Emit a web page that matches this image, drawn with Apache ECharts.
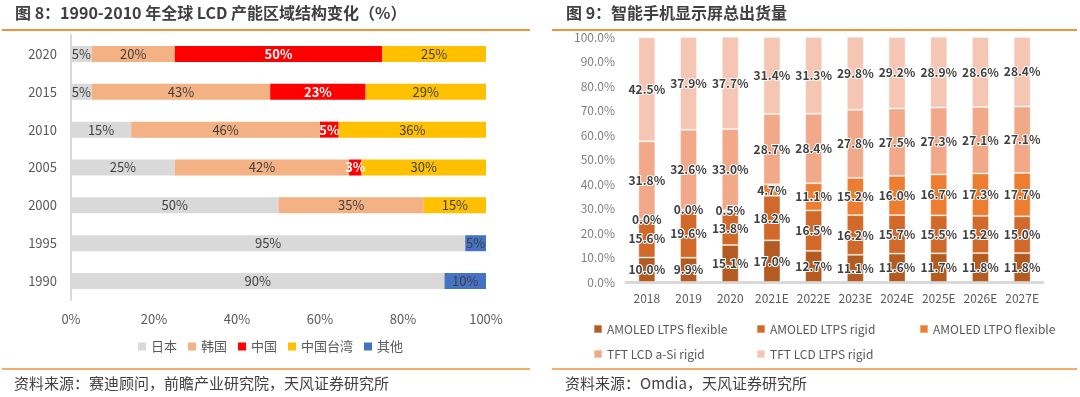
<!DOCTYPE html>
<html>
<head>
<meta charset="utf-8">
<script src="https://cdn.jsdelivr.net/npm/echarts@6/dist/echarts.min.js"></script>
<style>
html, body { margin: 0; padding: 0; background: #fff; }
#main { width: 1080px; height: 397px; }
</style>
</head>
<body>
<div id="main"></div>
<script>
// 图8：LCD 产能区域结构 (%)
const lcdYears = ['1990', '1995', '2000', '2005', '2010', '2015', '2020']
const japan = [90, 95, 50, 25, 14.5, 5, 5]
const korea = [0, 0, 35, 42, 45.5, 43, 20]
const china = [0, 0, 0, 3, 4.5, 23, 50]
const taiwan = [0, 0, 15, 30, 35.5, 29, 25]
const others = [10, 5, 0, 0, 0, 0, 0]
const lcdTicks = [0, 20, 40, 60, 80, 100]

// 图9：智能手机显示屏出货结构 (%)
const phoneYears = ['2018', '2019', '2020', '2021E', '2022E', '2023E', '2024E', '2025E', '2026E', '2027E']
const ltpsFlex = [10.0, 9.9, 15.1, 17.0, 12.7, 11.1, 11.6, 11.7, 11.8, 11.8]
const ltpsRigid = [15.6, 19.6, 13.8, 18.2, 16.5, 16.2, 15.7, 15.5, 15.2, 15.0]
const ltpoFlex = [0.0, 0.0, 0.5, 4.7, 11.1, 15.2, 16.0, 16.7, 17.3, 17.7]
const asiRigid = [31.8, 32.6, 33.0, 28.7, 28.4, 27.8, 27.5, 27.3, 27.1, 27.1]
const lcdLtpsRigid = [42.5, 37.9, 37.7, 31.4, 31.3, 29.8, 29.2, 28.9, 28.6, 28.4]

const FONT = '"Noto Sans CJK SC", "Noto Sans", sans-serif'

const leftNames = ['日本', '韩国', '中国', '中国台湾', '其他']
const leftData = [japan, korea, china, taiwan, others]
const leftColors = ['#d9d9d9', '#f4b183', '#ff0000', '#ffc000', '#4472c4']

const rightNames = ['AMOLED LTPS flexible', 'AMOLED LTPS rigid', 'AMOLED LTPO flexible', 'TFT LCD a-Si rigid', 'TFT LCD LTPS rigid']
const rightData = [ltpsFlex, ltpsRigid, ltpoFlex, asiRigid, lcdLtpsRigid]
const rightColors = ['#b35b21', '#d0692a', '#ed7d31', '#f1a98a', '#f6c6b4']

const series = []
leftNames.forEach((name, i) => {
  const isChina = name === '中国'
  series.push({
    name: name,
    type: 'bar',
    stack: 'lcd',
    xAxisIndex: 0,
    yAxisIndex: 0,
    barWidth: 16,
    data: leftData[i],
    itemStyle: { color: leftColors[i] },
    label: {
      show: true,
      position: 'inside',
      formatter: p => p.value ? Math.round(p.value) + '%' : '',
      color: isChina ? '#fff' : '#404040',
      fontWeight: isChina ? 'bold' : 'normal',
      fontSize: 13,
      fontFamily: FONT
    }
  })
})
rightNames.forEach((name, i) => {
  series.push({
    name: name,
    type: 'bar',
    stack: 'phone',
    xAxisIndex: 1,
    yAxisIndex: 1,
    barWidth: 17,
    data: rightData[i],
    itemStyle: { color: rightColors[i], borderColor: 'rgba(255,255,255,0.35)', borderWidth: 1 },
    label: {
      show: true,
      position: 'inside',
      formatter: p => p.value.toFixed(1) + '%',
      color: '#404040',
      fontWeight: 'bold',
      fontSize: 12,
      fontFamily: FONT,
      textBorderColor: '#fff',
      textBorderWidth: 2
    }
  })
})

const chart = echarts.init(document.getElementById('main'), null, { renderer: 'canvas' })
chart.setOption({
  animation: false,
  textStyle: { fontFamily: FONT },
  grid: [
    { left: 71, top: 35, width: 415, height: 265 },
    { left: 626, top: 37, width: 417, height: 245 }
  ],
  xAxis: [
    {
      gridIndex: 0,
      type: 'value',
      min: lcdTicks[0],
      max: lcdTicks[lcdTicks.length - 1],
      interval: 20,
      axisLine: { show: false },
      axisTick: { show: false },
      splitLine: { show: false },
      axisLabel: { color: '#595959', fontSize: 13, margin: 13, formatter: '{value}%' }
    },
    {
      gridIndex: 1,
      type: 'category',
      data: phoneYears,
      axisLine: { lineStyle: { color: '#d9d9d9', width: 3 } },
      axisTick: { show: false },
      axisLabel: { color: '#595959', fontSize: 12, margin: 10, interval: 0 }
    }
  ],
  yAxis: [
    {
      gridIndex: 0,
      type: 'category',
      data: lcdYears,
      axisLine: { lineStyle: { color: '#d9d9d9', width: 2 } },
      axisTick: { show: false },
      axisLabel: { color: '#595959', fontSize: 13, margin: 14 }
    },
    {
      gridIndex: 1,
      type: 'value',
      min: 0,
      max: 100,
      interval: 10,
      axisLine: { show: false },
      axisTick: { show: false },
      splitLine: { show: false },
      axisLabel: { color: '#7f7f7f', fontSize: 12, margin: 11, formatter: v => v.toFixed(1) + '%' }
    }
  ],
  legend: [
    {
      data: leftNames,
      left: 138,
      top: 340,
      padding: 0,
      icon: 'rect',
      itemWidth: 8,
      itemHeight: 8,
      itemGap: 11,
      textStyle: { color: '#595959', fontSize: 13, fontFamily: FONT }
    },
    {
      data: rightNames,
      left: 593,
      top: 319,
      width: 490,
      padding: 0,
      icon: 'rect',
      itemWidth: 8,
      itemHeight: 8,
      itemGap: 5,
      textStyle: { color: '#595959', fontSize: 12, width: 144, lineHeight: 20, fontFamily: FONT }
    }
  ],
  graphic: [
    { type: 'text', left: 15, top: 5, style: { text: '图 8：1990-2010 年全球 LCD 产能区域结构变化（%）', font: 'bold 16px ' + FONT, fill: '#404040' } },
    { type: 'text', left: 566, top: 5, style: { text: '图 9：智能手机显示屏总出货量', font: 'bold 16px ' + FONT, fill: '#404040' } },
    { type: 'line', shape: { x1: 2, y1: 30, x2: 530, y2: 30 }, style: { stroke: '#f0913a', lineWidth: 2 } },
    { type: 'line', shape: { x1: 552, y1: 30, x2: 1077, y2: 30 }, style: { stroke: '#f0913a', lineWidth: 2 } },
    { type: 'line', shape: { x1: 2, y1: 369, x2: 530, y2: 369 }, style: { stroke: '#f5ad6b', lineWidth: 2 } },
    { type: 'line', shape: { x1: 552, y1: 369, x2: 1077, y2: 369 }, style: { stroke: '#f5ad6b', lineWidth: 2 } },
    { type: 'text', left: 14, top: 376, style: { text: '资料来源：赛迪顾问，前瞻产业研究院，天风证券研究所', font: '15px ' + FONT, fill: '#404040' } },
    { type: 'text', left: 565, top: 376, style: { text: '资料来源：Omdia，天风证券研究所', font: '15px ' + FONT, fill: '#404040' } }
  ],
  series: series
})
</script>
</body>
</html>
